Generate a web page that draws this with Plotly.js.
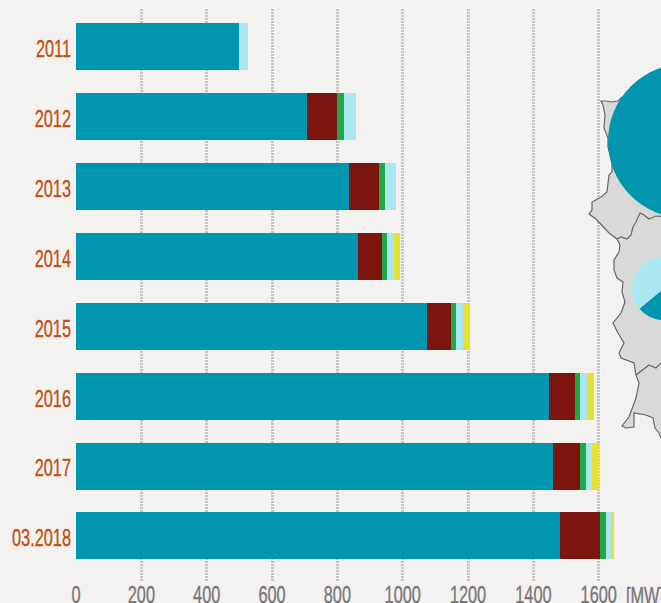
<!DOCTYPE html>
<html>
<head>
<meta charset="utf-8">
<script src="https://cdn.plot.ly/plotly-3.0.1.min.js"></script>
<style>html,body{margin:0;padding:0;width:661px;height:603px;overflow:hidden;background:#f4f1f1}</style>
</head>
<body>
<div id="chart" style="width:900px;height:603px"></div>
<script>
const categories = ['2011','2012','2013','2014','2015','2016','2017','03.2018'];
const wind    = [500, 707, 836, 863, 1074, 1448, 1460, 1482];
const biogas  = [0, 92, 92, 75, 74, 79, 83, 122];
const hydro   = [0, 21, 18, 14, 15, 16, 18, 18];
const biomass = [25, 37, 34, 21, 22, 21, 19, 16];
const solar   = [0, 0, 0, 19, 21, 22, 22, 10];
const seriesNames = ['wind','biogas','hydro','biomass','solar'];
const seriesValues = [wind, biogas, hydro, biomass, solar];
const seriesColors = ['#0096b0','#7d150f','#1fa847','#a9e8f0','#e6e235'];
const xTicks = [0,200,400,600,800,1000,1200,1400,1600];

// Region outline
const mapX = [622,618,611,606,601,603,605,604,608,608,612,612,609,608,607,601,592,592,589,596,603,609,617,620,619,614,614,617,623,622,625,621,613,618,624,619,621,634,636,639,636,629,622,626,634,634,646,653,655,659,661,700,700];
const mapY = [97,101,102,101,101,105,115,128,138,147,163,172,175,182,192,197,202,210,214,219,227,233,239,245,252,260,270,278,282,292,302,313,323,333,343,353,358,363,375,383,398,417,426,428,427,413,415,418,428,433,438,438,60];
const border1X = [617,621,627,631,633,636,640,644,649,656,700];
const border1Y = [239,237,239,235,227,222,213,215,219,216,220];
const border2X = [636,649,656,661,700];
const border2Y = [375,365,368,363,360];
const pieBig = [100];
const pieSmall = [50,50];

const W = 824, H = 573, L = 76, T = 9;
function dom(cx, cy, r){
  return {x:[(cx-r-L)/W,(cx+r-L)/W], y:[(T+H-cy-r)/H,(T+H-cy+r)/H]};
}

const traces = seriesValues.map((v,i)=>({
  type:'bar', orientation:'h', name:seriesNames[i], y:categories, x:v,
  marker:{color:seriesColors[i], line:{width:0}}, hoverinfo:'x+name'
}));
const outline = {color:'#666666', width:1.2};
traces.push({type:'scatter',mode:'lines',x:mapX,y:mapY,xaxis:'x2',yaxis:'y2',fill:'toself',fillcolor:'#d9d9d9',line:outline,hoverinfo:'skip'});
traces.push({type:'scatter',mode:'lines',x:border1X,y:border1Y,xaxis:'x2',yaxis:'y2',line:outline,hoverinfo:'skip'});
traces.push({type:'scatter',mode:'lines',x:border2X,y:border2Y,xaxis:'x2',yaxis:'y2',line:outline,hoverinfo:'skip'});
traces.push({type:'pie',values:pieBig,domain:dom(685,141,77),marker:{colors:['#0096b0'],line:{width:0}},textinfo:'none',sort:false,hoverinfo:'skip'});
traces.push({type:'pie',values:pieSmall,domain:dom(663.6,288.5,31.6),rotation:50,direction:'clockwise',sort:false,marker:{colors:['#0096b0','#a9e8f0'],line:{width:0}},textinfo:'none',hoverinfo:'skip'});

const fontFam = '"Liberation Sans", sans-serif';
const fs = 24;
const layout = {
  width:900, height:603,
  margin:{l:L,r:0,t:T,b:21,pad:0},
  paper_bgcolor:'#f4f1f1', plot_bgcolor:'#f4f1f1',
  showlegend:false, barmode:'stack', bargap:0.327,
  xaxis:{range:[0,W/0.3267],tickmode:'array',tickvals:xTicks,ticktext:xTicks.map(String),
    showgrid:true,gridcolor:'#c4c4c4',gridwidth:2.5,griddash:'2px,1px',zeroline:false,showline:false,ticks:'',
    tickfont:{family:fontFam,size:fs,color:'#777777'},fixedrange:true,automargin:false},
  yaxis:{type:'category',categoryorder:'array',categoryarray:categories,range:[7.66,-0.543],showgrid:false,zeroline:false,showline:false,ticks:'',
    tickfont:{family:fontFam,size:fs,color:'#c0500f'},fixedrange:true,automargin:false},
  xaxis2:{overlaying:'x',range:[76,900],visible:false,fixedrange:true},
  yaxis2:{overlaying:'y',range:[582,9],visible:false,fixedrange:true},
  annotations:[{xref:'x',yref:'paper',x:1600,y:0,yshift:-2,xshift:46,xanchor:'center',yanchor:'top',showarrow:false,
    text:'[MW]',font:{family:fontFam,size:fs,color:'#777777'}}]
};
function condense(){
  document.querySelectorAll('.xtick text, .ytick text, .annotation-text').forEach(t=>{
    const w = t.getComputedTextLength();
    t.setAttribute('textLength', (w*0.68).toFixed(1));
    t.setAttribute('lengthAdjust','spacingAndGlyphs');
    t.style.stroke = t.style.fill;
    t.style.strokeWidth = '0.35px';
  });
  document.querySelectorAll('.xtick text').forEach(t=>t.setAttribute('dy','-4'));
  document.querySelectorAll('.annotation-text').forEach(t=>t.setAttribute('dy','-4'));
  document.querySelectorAll('.ytick text').forEach(t=>{t.setAttribute('dy','2');t.setAttribute('dx','-4');});
}
Plotly.newPlot('chart',traces,layout,{displayModeBar:false,responsive:false}).then(condense);
</script>
</body>
</html>
